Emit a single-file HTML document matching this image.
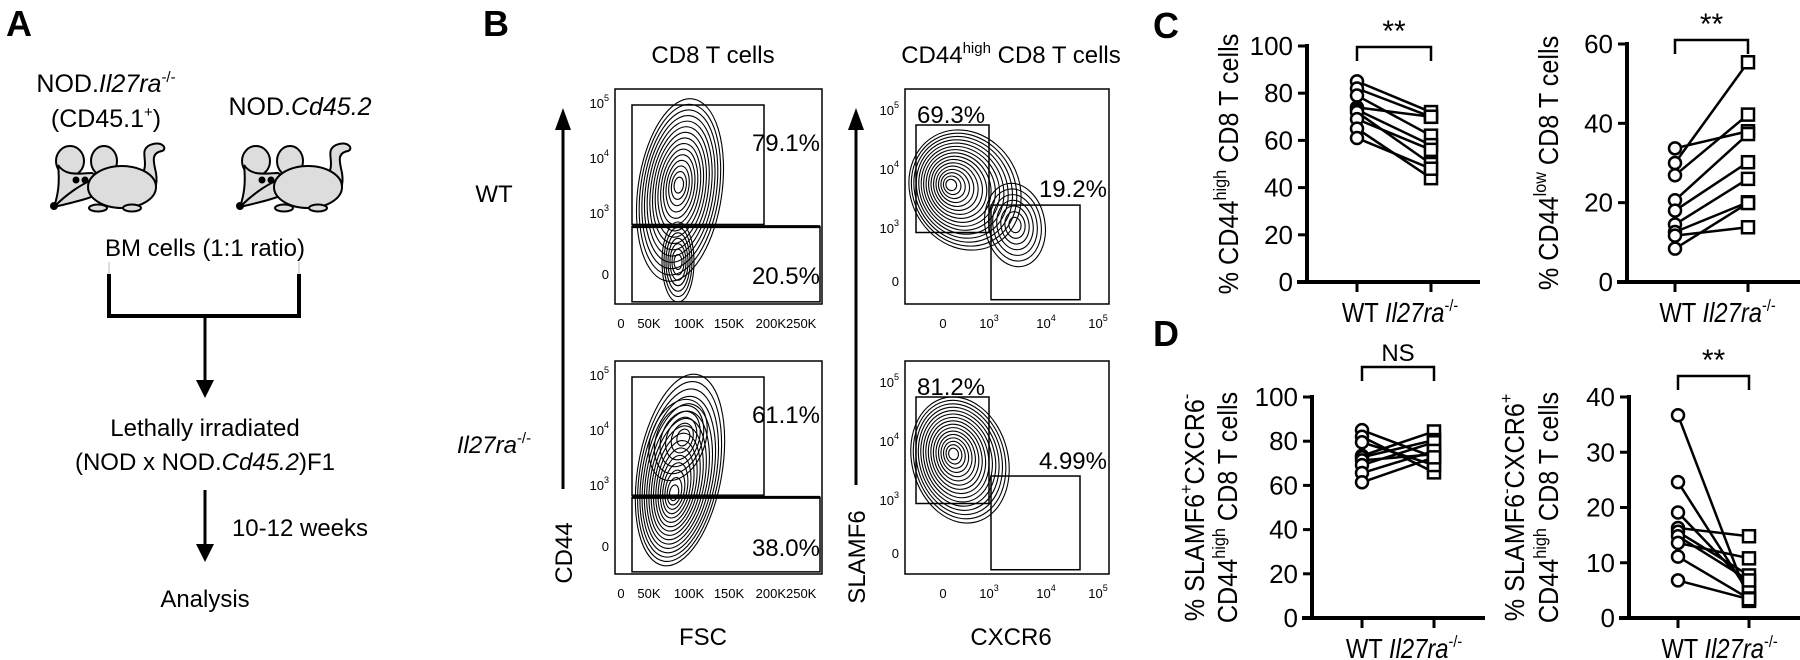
<!DOCTYPE html>
<html><head><meta charset="utf-8"><style>
html,body{margin:0;padding:0;background:#fff}
svg{display:block;font-family:"Liberation Sans",sans-serif}
</style></head><body>
<svg id="fig" width="1800" height="660" viewBox="0 0 1800 660">
<text x="6" y="36" font-size="36" font-weight="bold">A</text>
<text x="483" y="36" font-size="36" font-weight="bold">B</text>
<text x="1153" y="38" font-size="36" font-weight="bold">C</text>
<text x="1153" y="346" font-size="36" font-weight="bold">D</text>

<defs>
<g id="mouse" stroke="#000" stroke-width="2" fill="#ddd">
<path d="M92 32 C100 18 88 8 100 2 C112 -3 118 6 112 8 C100 10 104 20 106 30 C108 42 104 50 100 52" fill="#ddd"/>
<ellipse cx="20" cy="18" rx="14" ry="15"/>
<ellipse cx="54" cy="18" rx="13" ry="15"/>
<path d="M8 22 C16 34 30 30 42 30 C50 34 56 40 50 50 C40 56 20 60 4 64 C8 52 10 40 8 22 Z"/>
<ellipse cx="72" cy="44" rx="34" ry="21"/>
<path d="M40 38 C30 42 16 52 6 62" fill="none"/>
<circle cx="4" cy="63" r="3" fill="#000"/>
<circle cx="26" cy="37" r="2.5" fill="#000"/><circle cx="35" cy="37" r="2.5" fill="#000"/>
<ellipse cx="48" cy="65" rx="9" ry="3.5"/><ellipse cx="82" cy="65" rx="9" ry="3.5"/>
</g>
</defs>

<g font-size="25" text-anchor="middle">
<text x="106" y="92">NOD.<tspan font-style="italic">Il27ra</tspan><tspan font-size="15" dy="-10">-/-</tspan></text>
<text x="106" y="127">(CD45.1<tspan font-size="15" dy="-10">+</tspan><tspan dy="10">)</tspan></text>
<text x="300" y="115">NOD.<tspan font-style="italic">Cd45.2</tspan></text>
<use href="#mouse" transform="translate(50,143)"/>
<use href="#mouse" transform="translate(236,143)"/>
<text x="205" y="256" font-size="24">BM cells (1:1 ratio)</text>
<path d="M109 262 V274 M299 262 V274" stroke="#bbb" stroke-width="1" fill="none"/>
<path d="M109 274 V316 H299 V274" stroke="#000" stroke-width="4" fill="none"/>
<line x1="205" y1="316" x2="205" y2="382" stroke="#000" stroke-width="3"/>
<polygon points="196,380 214,380 205,398" fill="#000"/>
<text x="205" y="436" font-size="24">Lethally irradiated</text>
<text x="205" y="470" font-size="24">(NOD x NOD.<tspan font-style="italic">Cd45.2</tspan>)F1</text>
<line x1="205" y1="490" x2="205" y2="546" stroke="#000" stroke-width="3"/>
<polygon points="196,544 214,544 205,562" fill="#000"/>
<text x="300" y="536" font-size="24">10-12 weeks</text>
<text x="205" y="607" font-size="24">Analysis</text>
</g>

<g font-size="24">
<text x="713" y="63" text-anchor="middle">CD8 T cells</text>
<text x="1011" y="63" text-anchor="middle">CD44<tspan font-size="15" dy="-10">high</tspan><tspan dy="10"> CD8 T cells</tspan></text>
<text x="494" y="202" text-anchor="middle">WT</text>
<text x="494" y="453" text-anchor="middle"><tspan font-style="italic">Il27ra</tspan><tspan font-size="15" dy="-10">-/-</tspan></text>
<line x1="563" y1="489" x2="563" y2="128" stroke="#000" stroke-width="3"/>
<polygon points="555,130 571,130 563,108" fill="#000"/>
<text transform="translate(572,553) rotate(-90)" text-anchor="middle">CD44</text>
<line x1="856" y1="485" x2="856" y2="128" stroke="#000" stroke-width="3"/>
<polygon points="848,130 864,130 856,108" fill="#000"/>
<text transform="translate(865,557) rotate(-90)" text-anchor="middle">SLAMF6</text>
<text x="703" y="645" text-anchor="middle">FSC</text>
<text x="1011" y="645" text-anchor="middle">CXCR6</text>
<g id="flow" fill="none" stroke="#000"></g>
</g>

<g id="charts"></g>
</svg>
<script>
const groups = ["WT", "Il27ra-/-"];
const c1Ticks = [0, 20, 40, 60, 80, 100];
const c1WT = [85, 82, 79, 74, 73, 72, 69, 65, 61];
const c1KO = [72, 70, 62, 70, 58, 50, 56, 44, 48];
const c2Ticks = [0, 20, 40, 60];
const c2WT = [33.7, 30, 26.9, 20.6, 18, 14.5, 12.6, 11.7, 8.4];
const c2KO = [38, 55.4, 42.2, 37.3, 30.2, 26, 20.1, 13.8, 19.9];
const d1Ticks = [0, 20, 40, 60, 80, 100];
const d1WT = [85, 82, 79.5, 73.4, 72.7, 71.3, 69.2, 65.6, 61.4];
const d1KO = [72.7, 65.9, 69.2, 84.4, 80.5, 74.1, 79.5, 75.6, 72.7];
const d2Ticks = [0, 10, 20, 30, 40];
const d2WT = [36.7, 24.6, 19.1, 16.3, 15.6, 14.8, 13.6, 11.1, 6.8];
const d2KO = [3.1, 4.5, 5.7, 14.8, 7.7, 6.8, 10.8, 3.5, 3.4];
const flowPct = ["79.1%", "20.5%", "61.1%", "38.0%", "69.3%", "19.2%", "81.2%", "4.99%"];

const NS = "http://www.w3.org/2000/svg";
function mk(tag, attrs, parent) {
  const e = document.createElementNS(NS, tag);
  for (const k in attrs) e.setAttribute(k, attrs[k]);
  parent.appendChild(e);
  return e;
}
const charts = document.getElementById("charts");

function pairedChart(cfg) {
  const g = mk("g", {}, charts);
  
  
  const max = cfg.ticks[cfg.ticks.length - 1];
  const yS = v => cfg.y0 - (v / max) * (cfg.y0 - cfg.yTop);
  const xS = i => i === 0 ? cfg.xWT : cfg.xKO;
  const ya = mk("line", {x1: cfg.ax, y1: cfg.yTop - 2, x2: cfg.ax, y2: cfg.y0, stroke: "#000", "stroke-width": 4}, g);
  
  
  const xa = mk("line", {x1: cfg.ax - 10, y1: cfg.y0, x2: cfg.xEnd, y2: cfg.y0, stroke: "#000", "stroke-width": 4}, g);
  
  
  cfg.ticks.forEach(t => {
    const y = yS(t);
    mk("line", {x1: cfg.ax - 9, y1: y, x2: cfg.ax, y2: y, stroke: "#000", "stroke-width": 3}, g);
    const tl = mk("text", {x: cfg.ax - 14, y: y + 9, "font-size": 26, "text-anchor": "end"}, g);
    tl.textContent = t;
    
    
  });
  [0, 1].forEach(i => mk("line", {x1: xS(i), y1: cfg.y0, x2: xS(i), y2: cfg.y0 + 10, stroke: "#000", "stroke-width": 3}, g));
  const xl = mk("text", {transform: `translate(${(cfg.xWT + cfg.xKO) / 2 + 6},${cfg.y0 + 40}) scale(0.85,1)`, "font-size": 28, "text-anchor": "middle"}, g);
  xl.innerHTML = 'WT <tspan font-style="italic">Il27ra</tspan><tspan font-size="17" dy="-11">-/-</tspan>';
  
  
  const yl = mk("text", {transform: `translate(${cfg.lx},${(cfg.yTop + cfg.y0) / 2}) rotate(-90) scale(0.9,1)`, "font-size": 28, "text-anchor": "middle"}, g);
  yl.innerHTML = cfg.label;
  
  
  if (cfg.label2) {
    const yl2 = mk("text", {transform: `translate(${cfg.lx2},${(cfg.yTop + cfg.y0) / 2}) rotate(-90) scale(0.9,1)`, "font-size": 28, "text-anchor": "middle"}, g);
    yl2.innerHTML = cfg.label2;
    
    
  }
  const by = cfg.by;
  const br = mk("path", {d: `M${cfg.xWT} ${by + 14} V${by} H${cfg.xKO} V${by + 14}`, fill: "none", stroke: "#000", "stroke-width": 2.5}, g);
  
  
  const st = mk("text", {x: (cfg.xWT + cfg.xKO) / 2, y: by - 6, "font-size": cfg.sig === "NS" ? 24 : 30, "text-anchor": "middle"}, g);
  st.textContent = cfg.sig;
  
  
  cfg.wt.forEach((v, i) => {
    const ln = mk("line", {x1: xS(0), y1: yS(v), x2: xS(1), y2: yS(cfg.ko[i]), stroke: "#000", "stroke-width": 2.5}, g);
    
    
  });
  cfg.wt.forEach(v => {
    const c = mk("circle", {cx: xS(0), cy: yS(v), r: 6, fill: "#fff", stroke: "#000", "stroke-width": 2.5}, g);
    
    
  });
  cfg.ko.forEach(v => {
    const s = mk("rect", {x: xS(1) - 6, y: yS(v) - 6, width: 12, height: 12, fill: "#fff", stroke: "#000", "stroke-width": 2.5}, g);
    
    
  });
}

pairedChart({name: "chart-c-cd44high", ticks: c1Ticks, wt: c1WT, ko: c1KO, ax: 1307, yTop: 46, y0: 282, xEnd: 1480, xWT: 1357, xKO: 1431, by: 47, sig: "**", lx: 1238,
  label: '% CD44<tspan font-size="18" dy="-12">high</tspan><tspan dy="12"> CD8 T cells</tspan>'});
pairedChart({name: "chart-c-cd44low", ticks: c2Ticks, wt: c2WT, ko: c2KO, ax: 1627, yTop: 44, y0: 282, xEnd: 1800, xWT: 1675, xKO: 1748, by: 40, sig: "**", lx: 1558,
  label: '% CD44<tspan font-size="18" dy="-12">low</tspan><tspan dy="12"> CD8 T cells</tspan>'});
pairedChart({name: "chart-d-slamf6pos", ticks: d1Ticks, wt: d1WT, ko: d1KO, ax: 1312, yTop: 397, y0: 618, xEnd: 1485, xWT: 1362, xKO: 1434, by: 367, sig: "NS", lx: 1204, lx2: 1237,
  label: '% SLAMF6<tspan font-size="18" dy="-12">+</tspan><tspan dy="12">CXCR6</tspan><tspan font-size="18" dy="-12">-</tspan>',
  label2: 'CD44<tspan font-size="18" dy="-12">high</tspan><tspan dy="12"> CD8 T cells</tspan>'});
pairedChart({name: "chart-d-cxcr6pos", ticks: d2Ticks, wt: d2WT, ko: d2KO, ax: 1629, yTop: 397, y0: 618, xEnd: 1800, xWT: 1678, xKO: 1749, by: 376, sig: "**", lx: 1524, lx2: 1558,
  label: '% SLAMF6<tspan font-size="18" dy="-12">-</tspan><tspan dy="12">CXCR6</tspan><tspan font-size="18" dy="-12">+</tspan>',
  label2: 'CD44<tspan font-size="18" dy="-12">high</tspan><tspan dy="12"> CD8 T cells</tspan>'});

const flow = document.getElementById("flow");
function flowPlot(name, x, y, w, h, kind, pcts, contours) {
  const g = mk("g", {}, flow);
  
  
  mk("rect", {x, y, width: w, height: h, "stroke-width": 1.5}, g);
  contours.forEach(c => {
    for (let k = 0; k < c.n; k++) {
      const f = 1 - k / c.n;
      mk("ellipse", {cx: c.cx + c.dx * (1 - f), cy: c.cy + c.dy * (1 - f), rx: c.rx * f + 2, ry: c.ry * f + 2, transform: `rotate(${c.rot} ${c.cx} ${c.cy})`, "stroke-width": 1.1}, g);
    }
  });
  const txt = (tx, ty, s, anchor, size) => {
    const t = mk("text", {x: tx, y: ty, "font-size": size || 24, "text-anchor": anchor || "end", fill: "#000", stroke: "none"}, g);
    t.textContent = s;
    return t;
  };
  if (kind === "fsc") {
    const up = mk("rect", {x: x + 17, y: y + 16, width: 132, height: h * 0.63 - 16, "stroke-width": 1.5}, g);
    
    
    const lo = mk("rect", {x: x + 17, y: y + h * 0.64, width: w - 19, height: h * 0.35, "stroke-width": 1.5}, g);
    
    
    mk("line", {x1: x + 17, y1: y + h * 0.64, x2: x + w - 2, y2: y + h * 0.64, "stroke-width": 3}, g);
    const p1 = txt(x + w - 2, y + 62, pcts[0]);
    
    const p2 = txt(x + w - 2, y + 195, pcts[1]);
    
    ["0", "50K", "100K", "150K", "200K250K"].forEach((s, i) => {
      const t = txt(x + 6 + [0, 28, 68, 108, 165][i], y + h + 24, s, "middle", 13);
      
    });
    [["10", "5", 14], ["10", "4", 69], ["10", "3", 124], ["0", "", 185]].forEach(([b, e, dy]) => {
      const t = txt(x - 6, y + dy + 5, b, "end", 13);
      t.innerHTML = b + (e ? '<tspan font-size="9" dy="-7">' + e + '</tspan>' : '');
      
    });
  } else {
    const s = mk("rect", {x: x + 11, y: y + 36, width: 73, height: h * 0.5, "stroke-width": 1.5}, g);
    
    
    const c = mk("rect", {x: x + 86, y: y + h * 0.54, width: 89, height: h * 0.44, "stroke-width": 1.5}, g);
    
    
    const p1 = txt(x + 12, y + 34, pcts[0], "start");
    
    const p2 = txt(x + w - 2, y + 108, pcts[1]);
    
    [["0", "", 38], ["10", "3", 84], ["10", "4", 141], ["10", "5", 193]].forEach(([b, e, dx]) => {
      const t = txt(x + dx, y + h + 24, b, "middle", 13);
      t.innerHTML = b + (e ? '<tspan font-size="9" dy="-7">' + e + '</tspan>' : '');
      
    });
    [["10", "5", 21], ["10", "4", 80], ["10", "3", 139], ["0", "", 192]].forEach(([b, e, dy]) => {
      const t = txt(x - 6, y + dy + 5, b, "end", 13);
      t.innerHTML = b + (e ? '<tspan font-size="9" dy="-7">' + e + '</tspan>' : '');
      
    });
  }
}
flowPlot("flow-wt-cd44-fsc", 615, 89, 207, 215, "fsc", flowPct.slice(0, 2),
  [{cx: 680, cy: 190, rx: 40, ry: 90, rot: 8, n: 15, dx: -2, dy: -5},
   {cx: 678, cy: 262, rx: 14, ry: 38, rot: 0, n: 7, dx: 0, dy: 0}]);
flowPlot("flow-ko-cd44-fsc", 615, 361, 207, 213, "fsc", flowPct.slice(2, 4),
  [{cx: 680, cy: 470, rx: 40, ry: 95, rot: 10, n: 16, dx: -2, dy: 25},
   {cx: 678, cy: 440, rx: 25, ry: 40, rot: 20, n: 6, dx: 5, dy: -5}]);
flowPlot("flow-wt-slamf6-cxcr6", 905, 89, 204, 215, "cx", flowPct.slice(4, 6),
  [{cx: 965, cy: 190, rx: 52, ry: 60, rot: -30, n: 16, dx: -10, dy: -12},
   {cx: 1015, cy: 225, rx: 28, ry: 40, rot: -10, n: 7, dx: 0, dy: 0}]);
flowPlot("flow-ko-slamf6-cxcr6", 905, 361, 204, 213, "cx", flowPct.slice(6, 8),
  [{cx: 960, cy: 460, rx: 46, ry: 62, rot: -15, n: 16, dx: -5, dy: -8}]);
</script>
</body></html>
